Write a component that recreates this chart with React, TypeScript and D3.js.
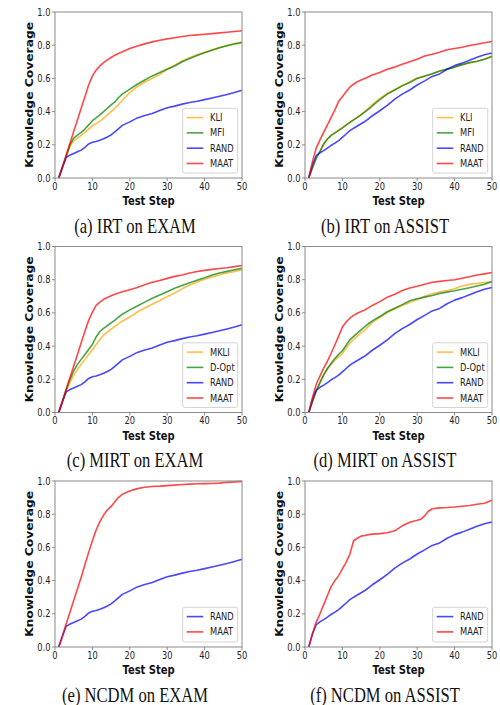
import React, { useEffect, useRef } from "react"
import * as d3 from "d3"

// test steps (dense at the start, every 2 steps later)
const STEPS = [1, 2, 3, 4, 5, 6, 7, 8, 9, 10, 11, 12, 13, 14, 15, 16, 17, 18, 20, 22, 24, 26, 28, 30, 32, 34, 36, 38, 40, 42, 44, 46, 48, 50]
const F_STEPS = [1, 2, 3, 4, 5, 6, 7, 8, 9, 10, 11, 12, 13, 14, 15, 16, 17, 18, 20, 22, 24, 26, 28, 30, 31, 32, 33, 34, 36, 38, 40, 42, 44, 46, 48, 50]

const X_TICKS = [0, 10, 20, 30, 40, 50]
const Y_TICKS = [0, 0.2, 0.4, 0.6, 0.8, 1.0]

const CAPTIONS = ["(a) IRT on EXAM", "(b) IRT on ASSIST", "(c) MIRT on EXAM", "(d) MIRT on ASSIST", "(e) NCDM on EXAM", "(f) NCDM on ASSIST"]

// RAND is the same run for every model on a dataset
const EXAM_RAND = [0, 0.065, 0.125, 0.138, 0.148, 0.158, 0.168, 0.185, 0.205, 0.215, 0.22, 0.227, 0.236, 0.247, 0.26, 0.278, 0.298, 0.317, 0.338, 0.362, 0.377, 0.388, 0.406, 0.423, 0.433, 0.445, 0.455, 0.462, 0.472, 0.482, 0.492, 0.503, 0.515, 0.528]
const ASSIST_RAND = [0, 0.08, 0.135, 0.152, 0.165, 0.18, 0.197, 0.21, 0.225, 0.245, 0.265, 0.285, 0.3, 0.313, 0.327, 0.34, 0.357, 0.375, 0.405, 0.438, 0.475, 0.505, 0.53, 0.56, 0.585, 0.612, 0.627, 0.655, 0.677, 0.692, 0.71, 0.727, 0.742, 0.753]

const IRT_EXAM_KLI = [0, 0.065, 0.13, 0.19, 0.225, 0.24, 0.257, 0.275, 0.295, 0.315, 0.328, 0.343, 0.36, 0.38, 0.4, 0.42, 0.443, 0.468, 0.515, 0.55, 0.578, 0.6, 0.625, 0.655, 0.68, 0.705, 0.725, 0.742, 0.758, 0.772, 0.786, 0.798, 0.81, 0.82]
const IRT_EXAM_MFI = [0, 0.065, 0.13, 0.2, 0.24, 0.258, 0.275, 0.295, 0.32, 0.345, 0.362, 0.38, 0.4, 0.42, 0.44, 0.458, 0.485, 0.505, 0.535, 0.565, 0.59, 0.615, 0.635, 0.655, 0.675, 0.7, 0.72, 0.738, 0.755, 0.77, 0.785, 0.797, 0.807, 0.815]
const IRT_EXAM_MAAT = [0, 0.07, 0.14, 0.21, 0.28, 0.35, 0.42, 0.49, 0.56, 0.615, 0.65, 0.675, 0.695, 0.712, 0.726, 0.74, 0.75, 0.76, 0.78, 0.795, 0.808, 0.82, 0.83, 0.838, 0.845, 0.852, 0.858, 0.862, 0.866, 0.87, 0.874, 0.878, 0.883, 0.887]

const IRT_ASSIST_KLI = [0, 0.06, 0.12, 0.16, 0.205, 0.235, 0.257, 0.272, 0.287, 0.302, 0.318, 0.335, 0.35, 0.365, 0.382, 0.4, 0.42, 0.443, 0.478, 0.51, 0.532, 0.557, 0.578, 0.602, 0.612, 0.626, 0.643, 0.655, 0.667, 0.682, 0.694, 0.702, 0.716, 0.735]
const IRT_ASSIST_MFI = [0, 0.06, 0.12, 0.16, 0.205, 0.235, 0.257, 0.272, 0.287, 0.302, 0.318, 0.335, 0.35, 0.365, 0.38, 0.398, 0.415, 0.435, 0.472, 0.505, 0.53, 0.555, 0.575, 0.6, 0.615, 0.628, 0.645, 0.656, 0.668, 0.683, 0.695, 0.703, 0.715, 0.732]
const IRT_ASSIST_MAAT = [0, 0.1, 0.18, 0.23, 0.275, 0.32, 0.365, 0.41, 0.462, 0.49, 0.52, 0.548, 0.565, 0.58, 0.59, 0.6, 0.61, 0.62, 0.635, 0.655, 0.668, 0.685, 0.7, 0.715, 0.735, 0.745, 0.758, 0.773, 0.78, 0.788, 0.798, 0.806, 0.815, 0.822]

const MIRT_EXAM_MKLI = [0, 0.065, 0.13, 0.18, 0.225, 0.258, 0.29, 0.32, 0.35, 0.378, 0.41, 0.44, 0.465, 0.485, 0.502, 0.518, 0.535, 0.55, 0.575, 0.605, 0.63, 0.652, 0.675, 0.698, 0.72, 0.745, 0.768, 0.786, 0.802, 0.817, 0.83, 0.84, 0.85, 0.858]
const MIRT_EXAM_DOPT = [0, 0.07, 0.14, 0.2, 0.25, 0.29, 0.32, 0.35, 0.38, 0.41, 0.455, 0.488, 0.507, 0.524, 0.54, 0.556, 0.575, 0.592, 0.618, 0.642, 0.665, 0.688, 0.708, 0.728, 0.748, 0.765, 0.782, 0.797, 0.812, 0.828, 0.84, 0.85, 0.86, 0.868]
const MIRT_EXAM_MAAT = [0, 0.07, 0.14, 0.21, 0.28, 0.35, 0.42, 0.49, 0.555, 0.605, 0.645, 0.665, 0.682, 0.693, 0.703, 0.712, 0.72, 0.727, 0.74, 0.753, 0.77, 0.785, 0.795, 0.808, 0.82, 0.828, 0.84, 0.849, 0.856, 0.862, 0.867, 0.872, 0.879, 0.886]

const MIRT_ASSIST_MKLI = [0, 0.065, 0.13, 0.18, 0.227, 0.262, 0.29, 0.315, 0.337, 0.355, 0.388, 0.418, 0.44, 0.46, 0.48, 0.498, 0.52, 0.543, 0.574, 0.602, 0.625, 0.645, 0.663, 0.68, 0.7, 0.715, 0.725, 0.735, 0.745, 0.762, 0.772, 0.778, 0.783, 0.788]
const MIRT_ASSIST_DOPT = [0, 0.065, 0.13, 0.18, 0.227, 0.265, 0.297, 0.325, 0.351, 0.372, 0.405, 0.438, 0.458, 0.478, 0.498, 0.518, 0.536, 0.552, 0.578, 0.607, 0.628, 0.65, 0.673, 0.685, 0.695, 0.705, 0.717, 0.725, 0.733, 0.743, 0.752, 0.762, 0.773, 0.789]
const MIRT_ASSIST_MAAT = [0, 0.09, 0.17, 0.22, 0.267, 0.31, 0.357, 0.408, 0.46, 0.515, 0.545, 0.568, 0.585, 0.598, 0.608, 0.618, 0.632, 0.645, 0.668, 0.695, 0.712, 0.735, 0.75, 0.76, 0.773, 0.785, 0.79, 0.795, 0.8, 0.809, 0.818, 0.828, 0.835, 0.843]

const NCDM_EXAM_MAAT = [0, 0.07, 0.14, 0.21, 0.28, 0.35, 0.42, 0.495, 0.57, 0.64, 0.705, 0.755, 0.795, 0.825, 0.847, 0.875, 0.902, 0.92, 0.94, 0.954, 0.962, 0.967, 0.969, 0.972, 0.975, 0.979, 0.981, 0.983, 0.984, 0.985, 0.987, 0.992, 0.995, 0.998]
const NCDM_ASSIST_MAAT = [0, 0.08, 0.15, 0.2, 0.255, 0.31, 0.365, 0.4, 0.43, 0.47, 0.51, 0.56, 0.64, 0.655, 0.668, 0.672, 0.677, 0.68, 0.683, 0.688, 0.7, 0.73, 0.752, 0.763, 0.77, 0.79, 0.818, 0.833, 0.838, 0.84, 0.843, 0.848, 0.852, 0.86, 0.866, 0.884]

const COLORS = { orange: "#ffa500", green: "#008000", blue: "#0000ff", red: "#ff0000" }

const PANELS = [
    [
        { name: "KLI", color: COLORS.orange, steps: STEPS, values: IRT_EXAM_KLI },
        { name: "MFI", color: COLORS.green, steps: STEPS, values: IRT_EXAM_MFI },
        { name: "RAND", color: COLORS.blue, steps: STEPS, values: EXAM_RAND },
        { name: "MAAT", color: COLORS.red, steps: STEPS, values: IRT_EXAM_MAAT },
    ],
    [
        { name: "KLI", color: COLORS.orange, steps: STEPS, values: IRT_ASSIST_KLI },
        { name: "MFI", color: COLORS.green, steps: STEPS, values: IRT_ASSIST_MFI },
        { name: "RAND", color: COLORS.blue, steps: STEPS, values: ASSIST_RAND },
        { name: "MAAT", color: COLORS.red, steps: STEPS, values: IRT_ASSIST_MAAT },
    ],
    [
        { name: "MKLI", color: COLORS.orange, steps: STEPS, values: MIRT_EXAM_MKLI },
        { name: "D-Opt", color: COLORS.green, steps: STEPS, values: MIRT_EXAM_DOPT },
        { name: "RAND", color: COLORS.blue, steps: STEPS, values: EXAM_RAND },
        { name: "MAAT", color: COLORS.red, steps: STEPS, values: MIRT_EXAM_MAAT },
    ],
    [
        { name: "MKLI", color: COLORS.orange, steps: STEPS, values: MIRT_ASSIST_MKLI },
        { name: "D-Opt", color: COLORS.green, steps: STEPS, values: MIRT_ASSIST_DOPT },
        { name: "RAND", color: COLORS.blue, steps: STEPS, values: ASSIST_RAND },
        { name: "MAAT", color: COLORS.red, steps: STEPS, values: MIRT_ASSIST_MAAT },
    ],
    [
        { name: "RAND", color: COLORS.blue, steps: STEPS, values: EXAM_RAND },
        { name: "MAAT", color: COLORS.red, steps: STEPS, values: NCDM_EXAM_MAAT },
    ],
    [
        { name: "RAND", color: COLORS.blue, steps: STEPS, values: ASSIST_RAND },
        { name: "MAAT", color: COLORS.red, steps: F_STEPS, values: NCDM_ASSIST_MAAT },
    ],
]

const SX = 0.83 // the scanned figure is squeezed a bit horizontally
const SANS = "'DejaVu Sans', sans-serif"

function App() {
    const ref = useRef<SVGSVGElement>(null)

    useEffect(() => {
        const svg = d3.select(ref.current)
        svg.selectAll("*").remove()

        const text = (g: any, x: number, y: number, str: string, size: number, anchor: string) =>
            g.append("text")
                .attr("transform", `translate(${x},${y}) scale(${SX},1)`)
                .attr("text-anchor", anchor)
                .style("font-family", SANS)
                .style("font-size", size + "px")
                .attr("fill", "#222")
                .text(str)

        PANELS.forEach((series, i) => {
            const col = i % 2
            const row = Math.floor(i / 2)
            const left = 55 + col * 250
            const top = 12 + row * 234.5
            const w = 187
            const h = 166
            const xScale = d3.scaleLinear().domain([0, 50]).range([left, left + w])
            const yScale = d3.scaleLinear().domain([0, 1]).range([top + h, top])
            const g = svg.append("g")

            const line = d3.line<[number, number]>()
                .x(d => xScale(d[0]))
                .y(d => yScale(d[1]))

            series.forEach(s => {
                g.append("path")
                    .datum(d3.zip(s.steps, s.values) as [number, number][])
                    .attr("d", line)
                    .attr("fill", "none")
                    .attr("stroke", s.color)
                    .attr("stroke-opacity", 0.72)
                    .attr("stroke-width", 1.6)
                    .attr("stroke-linejoin", "round")
            })

            // frame
            g.append("rect")
                .attr("x", left).attr("y", top)
                .attr("width", w).attr("height", h)
                .attr("fill", "none")
                .attr("stroke", "#8a8a8a")
                .attr("stroke-width", 1)

            X_TICKS.forEach(t => {
                g.append("line")
                    .attr("x1", xScale(t)).attr("x2", xScale(t))
                    .attr("y1", top + h).attr("y2", top + h + 3)
                    .attr("stroke", "#8a8a8a")
                text(g, xScale(t), top + h + 11.8, String(t), 10, "middle")
            })
            Y_TICKS.forEach(t => {
                g.append("line")
                    .attr("x1", left - 3).attr("x2", left)
                    .attr("y1", yScale(t)).attr("y2", yScale(t))
                    .attr("stroke", "#8a8a8a")
                text(g, left - 4.5, yScale(t) + 3.5, t.toFixed(1), 10, "end")
            })

            text(g, left + w / 2, top + h + 27, "Test Step", 12, "middle")
                .style("font-weight", "bold").attr("fill", "#111")
            g.append("text")
                .attr("transform", `translate(${left - 21.7},${top + h / 2}) scale(${SX},1) rotate(-90)`)
                .attr("text-anchor", "middle")
                .style("font-family", SANS)
                .style("font-size", "12.3px")
                .style("font-weight", "bold")
                .attr("fill", "#111")
                .text("Knowledge Coverage")

            // legend, lower right
            const lh = 15 * series.length + 4.7
            const lx = left + w - 59.3
            const ly = top + h - 5 - lh
            g.append("rect")
                .attr("x", lx).attr("y", ly)
                .attr("width", 55).attr("height", lh)
                .attr("rx", 2)
                .attr("fill", "#fff").attr("fill-opacity", 0.85)
                .attr("stroke", "#d4d4d4")
            series.forEach((s, k) => {
                const yy = ly + 9.3 + 15.3 * k
                g.append("line")
                    .attr("x1", lx + 4).attr("x2", lx + 20.6)
                    .attr("y1", yy).attr("y2", yy)
                    .attr("stroke", s.color)
                    .attr("stroke-opacity", 0.72)
                    .attr("stroke-width", 1.6)
                text(g, lx + 27.3, yy + 3.5, s.name, 10, "start")
            })

            g.append("text")
                .attr("transform", `translate(${left + 80},${top + h + 54.6}) scale(${SX},1)`)
                .attr("text-anchor", "middle")
                .style("font-family", "'Liberation Serif', 'Times New Roman', serif")
                .style("font-size", "20px")
                .attr("fill", "#111")
                .text(CAPTIONS[i])
        })
    }, [])

    return (
        <svg
            ref={ref}
            width={500}
            height={705}
            style={{ position: "absolute", left: 0, top: 0, background: "#fff" }}
        />
    )
}

export default App
